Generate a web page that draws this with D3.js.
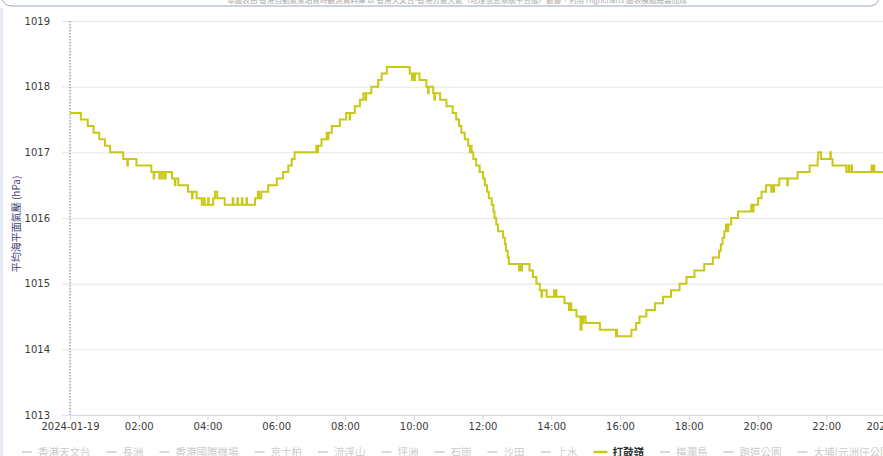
<!DOCTYPE html>
<html>
<head>
<meta charset="utf-8">
<script src="https://cdn.jsdelivr.net/npm/d3@7/dist/d3.min.js"></script>
<style>
    body { margin: 0; background: #fff; }
    #chart { width: 883px; height: 456px; overflow: hidden; }
    .grid line { stroke: #e6e6e6; }
    .grid path { display: none; }
    .y-axis path, .y-axis line { display: none; }
    .y-axis text, .x-axis text { font-family: "DejaVu Sans", Verdana, sans-serif; font-size: 10px; fill: #3a3a3a; }
    .x-axis path, .x-axis line { stroke: #ccd6eb; }
</style>
</head>
<body>
<div id="chart"></div>
<script>
    // 打鼓嶺 mean sea level pressure, change points (time -> hPa)
    var obsTimes = [
        "00:00","00:19","00:31","00:41","00:51","01:01","01:10","01:33","01:40","01:41",
        "01:56","02:22","02:26","02:27","02:36","02:37","02:41","02:42","02:46","02:47",
        "02:58","03:03","03:04","03:09","03:26","03:33","03:34","03:41","03:50","03:54",
        "03:55","04:01","04:02","04:10","04:13","04:17","04:30","04:44","04:45","04:52",
        "04:53","05:00","05:01","05:08","05:09","05:23","05:28","05:30","05:34","05:46",
        "06:01","06:12","06:21","06:27","06:32","07:10","07:11","07:13","07:19","07:28",
        "07:30","07:31","07:37","07:51","08:02","08:08","08:09","08:17","08:26","08:32",
        "08:36","08:37","08:46","08:58","09:04","09:13","09:53","09:57","09:58","10:01",
        "10:02","10:10","10:22","10:25","10:26","10:34","10:36","10:37","10:46","10:57",
        "11:08","11:14","11:19","11:23","11:29","11:35","11:38","11:39","11:41","11:44",
        "11:49","11:55","12:01","12:04","12:08","12:11","12:16","12:19","12:21","12:24",
        "12:27","12:36","12:39","12:41","12:44","12:46","13:04","13:05","13:08","13:09",
        "13:22","13:28","13:34","13:40","13:43","13:44","13:52","14:05","14:06","14:08",
        "14:09","14:23","14:31","14:32","14:35","14:44","14:51","14:53","14:55","14:56",
        "15:00","15:10","15:25","15:53","15:54","15:55","16:20","16:28","16:34","16:46",
        "17:01","17:15","17:29","17:44","17:56","18:10","18:27","18:42","18:53","18:56",
        "18:59","19:02","19:05","19:08","19:09","19:14","19:26","19:49","19:52","19:53",
        "20:01","20:07","20:15","20:24","20:25","20:28","20:29","20:38","20:52","20:53",
        "21:10","21:31","21:45","21:46","21:51","22:07","22:08","22:11","22:35","22:39",
        "22:40","22:44","22:45","23:19","23:20","23:23","23:24","24:00"
    ];
    var obsPressure = [
        1017.6,1017.5,1017.4,1017.3,1017.2,1017.1,1017.0,1016.9,1016.8,1016.9,
        1016.8,1016.7,1016.6,1016.7,1016.6,1016.7,1016.6,1016.7,1016.6,1016.7,
        1016.6,1016.5,1016.6,1016.5,1016.4,1016.3,1016.4,1016.3,1016.2,1016.3,
        1016.2,1016.3,1016.2,1016.3,1016.4,1016.3,1016.2,1016.3,1016.2,1016.3,
        1016.2,1016.3,1016.2,1016.3,1016.2,1016.3,1016.4,1016.3,1016.4,1016.5,
        1016.6,1016.7,1016.8,1016.9,1017.0,1017.1,1017.0,1017.1,1017.2,1017.3,
        1017.2,1017.3,1017.4,1017.5,1017.6,1017.5,1017.6,1017.7,1017.8,1017.9,
        1017.8,1017.9,1018.0,1018.1,1018.2,1018.3,1018.2,1018.1,1018.2,1018.1,
        1018.2,1018.1,1018.0,1017.9,1018.0,1017.9,1017.8,1017.9,1017.8,1017.7,
        1017.6,1017.5,1017.4,1017.3,1017.2,1017.1,1017.0,1017.1,1017.0,1016.9,
        1016.8,1016.7,1016.6,1016.5,1016.4,1016.3,1016.2,1016.1,1016.0,1015.9,
        1015.8,1015.7,1015.6,1015.5,1015.4,1015.3,1015.2,1015.3,1015.2,1015.3,
        1015.2,1015.1,1015.0,1014.9,1014.8,1014.9,1014.8,1014.9,1014.8,1014.9,
        1014.8,1014.7,1014.6,1014.7,1014.6,1014.5,1014.3,1014.5,1014.4,1014.5,
        1014.4,1014.4,1014.3,1014.2,1014.3,1014.2,1014.3,1014.4,1014.5,1014.6,
        1014.7,1014.8,1014.9,1015.0,1015.1,1015.2,1015.3,1015.4,1015.5,1015.6,
        1015.7,1015.8,1015.9,1015.8,1015.9,1016.0,1016.1,1016.2,1016.1,1016.2,
        1016.3,1016.4,1016.5,1016.4,1016.5,1016.4,1016.5,1016.6,1016.5,1016.6,
        1016.7,1016.8,1016.9,1017.0,1016.9,1017.0,1016.9,1016.8,1016.7,1016.8,
        1016.7,1016.8,1016.7,1016.8,1016.7,1016.8,1016.7,1016.7
    ];
    var yTicks = [1013, 1014, 1015, 1016, 1017, 1018, 1019];
    var legendNames = ["香港天文台","長洲","香港國際機場","京士柏","流浮山","坪洲","石崗","沙田","上水","打鼓嶺","橫瀾島","跑道公園","大埔(元洲仔公園)"];
    var activeStation = "打鼓嶺";
    var lineColor = "#c8c818";

    var margin = {top: 21, left: 70, bottom: 41};
    var W = 883, H = 456;
    var plotRight = 895; // plot continues past the window edge

    function parseTime(s) {
        var p = s.split(":");
        return new Date(2024, 0, 19, +p[0], +p[1]);
    }
    var data = obsTimes.map(function(t, i) { return {date: parseTime(t), value: obsPressure[i]}; });

    var x = d3.scaleTime()
            .domain([new Date(2024, 0, 19, 0, 0), new Date(2024, 0, 20, 0, 0)])
            .range([margin.left, plotRight]);
    var y = d3.scaleLinear()
            .domain([1013, 1019])
            .range([H - margin.bottom, margin.top]);

    var svg = d3.select("#chart").append("svg")
            .attr("width", W)
            .attr("height", H);

    // framed caption box at the top (mostly cut off)
    svg.append("rect")
            .attr("x", 2).attr("y", -30)
            .attr("width", 877).attr("height", 36)
            .attr("rx", 9)
            .attr("fill", "none")
            .attr("stroke", "#9aa6b4")
            .attr("stroke-width", 1);
    svg.append("text")
            .attr("x", 457).attr("y", 3)
            .attr("text-anchor", "middle")
            .style("font-family", "'Noto Sans CJK TC', sans-serif")
            .style("font-size", "7.6px")
            .style("fill", "#a8a8a8")
            .text("本圖表由 香港自動氣象站實時觀測資料庫 以 香港天文台-香港分區天氣（地理信息系統平台版）數據，利用 Highcharts 圖表模組繪製而成");

    // faint left edge
    svg.append("line")
            .attr("x1", 1.5).attr("x2", 1.5).attr("y1", 8).attr("y2", H)
            .attr("stroke", "#e3eaf3").attr("stroke-width", 3);

    // gridlines
    svg.append("g")
            .attr("class", "grid")
            .attr("transform", "translate(62,0)")
            .call(d3.axisLeft(y).tickValues(yTicks).tickSize(-(plotRight - 62)).tickFormat(""));

    // y labels
    svg.append("g")
            .attr("class", "y-axis")
            .attr("transform", "translate(" + margin.left + ",0)")
            .call(d3.axisLeft(y).tickValues(yTicks).tickSize(0).tickPadding(20).tickFormat(d3.format("d")));

    // x axis
    var fmt = function(d) {
        return d.getHours() === 0 ? d3.timeFormat("%Y-%m-%d")(d) : d3.timeFormat("%H:%M")(d);
    };
    svg.append("g")
            .attr("class", "x-axis")
            .attr("transform", "translate(0," + y(1013) + ")")
            .call(d3.axisBottom(x).ticks(d3.timeHour.every(2)).tickSize(5).tickPadding(3).tickFormat(fmt));

    // dotted marker at the start of the day
    svg.append("line")
            .attr("x1", x(data[0].date)).attr("x2", x(data[0].date))
            .attr("y1", y(1019)).attr("y2", y(1013))
            .attr("stroke", "#6f7080")
            .attr("stroke-width", 1)
            .attr("stroke-dasharray", "1.5,1.5");

    // y title
    svg.append("text")
            .attr("transform", "translate(16,224) rotate(-90)")
            .attr("text-anchor", "middle")
            .attr("dy", "0.35em")
            .style("font-family", "'Noto Sans CJK TC', sans-serif")
            .style("font-size", "10px")
            .style("fill", "#3e3e78")
            .text("平均海平面氣壓 (hPa)");

    // pressure line
    var line = d3.line()
            .curve(d3.curveStepAfter)
            .x(function(d) { return x(d.date); })
            .y(function(d) { return y(d.value); });
    svg.append("path")
            .datum(data)
            .attr("fill", "none")
            .attr("stroke", lineColor)
            .attr("stroke-width", 2)
            .attr("stroke-linejoin", "miter")
            .attr("d", line);

    // legend
    var lx = 22, ly = 452;
    legendNames.forEach(function(name) {
        var on = name === activeStation;
        var g = svg.append("g").attr("transform", "translate(" + lx + "," + ly + ")");
        g.append("line")
                .attr("x1", 0).attr("x2", on ? 14 : 10)
                .attr("stroke", on ? lineColor : "#cccccc")
                .attr("stroke-width", on ? 2.5 : 1.5);
        var t = g.append("text")
                .attr("x", on ? 19 : 16)
                .attr("dy", "0.35em")
                .style("font-family", "'Noto Sans CJK TC', sans-serif")
                .style("font-size", "10.5px")
                .style("font-weight", on ? "bold" : "normal")
                .style("fill", on ? "#333" : "#cccccc")
                .text(name);
        lx += (on ? 19 : 16) + t.node().getComputedTextLength() + 16;
    });
</script>
</body>
</html>
